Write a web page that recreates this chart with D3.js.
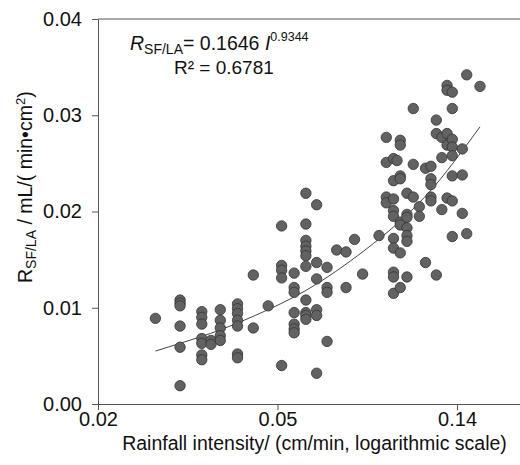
<!DOCTYPE html>
<html>
<head>
<meta charset="utf-8">
<script src="https://cdn.jsdelivr.net/npm/d3@7/dist/d3.min.js"></script>
<style>
  body { margin: 0; background: #fff; }
  text { font-family: "Liberation Sans", Arial, sans-serif; fill: #111; }
</style>
</head>
<body>
<div id="chart"></div>
<script>
// rainfall intensity levels (cm/min) and the R_SF/LA readings at each level
var intensity = [0.0273, 0.0312, 0.0351, 0.0369, 0.0388, 0.0426, 0.0464, 0.0503, 0.0541, 0.0579,
                 0.0617, 0.0654, 0.0692, 0.0729, 0.0767, 0.0803, 0.0839, 0.0917, 0.0954, 0.0992,
                 0.1011, 0.1029, 0.1067, 0.1104, 0.1141, 0.1180, 0.1215, 0.1251, 0.1289, 0.1326,
                 0.1364, 0.1440, 0.1475, 0.1585];
var rsfla = [
    [0.0089],
    [0.0108, 0.0105, 0.0102, 0.0081, 0.0059, 0.0019],
    [0.0096, 0.0090, 0.0083, 0.0068, 0.0063, 0.0051, 0.0046],
    [0.0066, 0.0062],
    [0.0098, 0.0087, 0.0079, 0.0071, 0.0066],
    [0.0104, 0.0099, 0.0094, 0.0087, 0.0081, 0.0052, 0.0048],
    [0.0134, 0.0079],
    [0.0102],
    [0.0185, 0.0144, 0.0139, 0.0131, 0.0040],
    [0.0136, 0.0121, 0.0116, 0.0095, 0.0083, 0.0078, 0.0074],
    [0.0219, 0.0187, 0.0170, 0.0164, 0.0159, 0.0154, 0.0143, 0.0108, 0.0095, 0.0092, 0.0088],
    [0.0207, 0.0147, 0.0130, 0.0098, 0.0092, 0.0032],
    [0.0142, 0.0121, 0.0116, 0.0065],
    [0.0160],
    [0.0158, 0.0121],
    [0.0171],
    [0.0135],
    [0.0175],
    [0.0277, 0.0251, 0.0215, 0.0209],
    [0.0255, 0.0232, 0.0213, 0.0201, 0.0195, 0.0172, 0.0162, 0.0137, 0.0132, 0.0115],
    [0.0253],
    [0.0274, 0.0269, 0.0237, 0.0234, 0.0189, 0.0186, 0.0157, 0.0121],
    [0.0219, 0.0197, 0.0194, 0.0183, 0.0175, 0.0169, 0.0132],
    [0.0307, 0.0249, 0.0215],
    [0.0205, 0.0195],
    [0.0245, 0.0147],
    [0.0247, 0.0234, 0.0228, 0.0215, 0.0211],
    [0.0295, 0.0281, 0.0134],
    [0.0277, 0.0256, 0.0202],
    [0.0331, 0.0326, 0.0281, 0.0269, 0.0214],
    [0.0324, 0.0307, 0.0275, 0.0267, 0.0258, 0.0237, 0.0211, 0.0174],
    [0.0265, 0.0238, 0.0198],
    [0.0342, 0.0177],
    [0.0330]
];

// fitted power curve
var fitI = [0.0273, 0.0312, 0.0388, 0.0469, 0.0617, 0.0850, 0.1028, 0.1226, 0.1440, 0.1585];
var fitR = [0.0055, 0.0063, 0.0077, 0.0092, 0.0118, 0.0160, 0.0190, 0.0224, 0.0263, 0.0288];

var xTickValues = [0.02, 0.0529, 0.14];
var xTickLabels = ["0.02", "0.05", "0.14"];
var yTickValues = [0, 0.01, 0.02, 0.03, 0.04];

const width = 520, height = 465,
    margin = {left: 98, top: 19, right: -12, bottom: 61};

const svg = d3.select("#chart")
    .append("svg")
        .attr("width", width)
        .attr("height", height);

const xScale = d3.scaleLog()
    .domain([0.02, 0.21])
    .range([margin.left, margin.left + 424.9 * Math.log10(0.21 / 0.02)]);
const yScale = d3.scaleLinear()
    .domain([0, 0.04])
    .range([height - margin.bottom, margin.top]);

// flatten the readings into points
var points = [];
intensity.forEach(function(d, i) {
    rsfla[i].forEach(function(r) {
        points.push({x: d, y: r});
    });
});

// top frame line
svg.append("line")
    .attr("x1", xScale.range()[0]).attr("x2", xScale.range()[1])
    .attr("y1", yScale(0.04)).attr("y2", yScale(0.04))
    .attr("stroke", "#555").attr("stroke-width", 1);

const xAxis = svg.append("g")
    .attr("transform", `translate(0, ${yScale(0)})`)
    .call(d3.axisBottom(xScale)
        .tickValues(xTickValues)
        .tickFormat((d, i) => xTickLabels[i])
        .tickSize(6)
        .tickSizeOuter(0)
        .tickPadding(2));

const yAxis = svg.append("g")
    .attr("transform", `translate(${xScale(0.02)}, 0)`)
    .call(d3.axisLeft(yScale)
        .tickValues(yTickValues)
        .tickFormat(d3.format(".2f"))
        .tickSize(6)
        .tickSizeOuter(0)
        .tickPadding(10));

[xAxis, yAxis].forEach(function(g) {
    g.select(".domain").attr("stroke", "#555");
    g.selectAll(".tick line").attr("stroke", "#555");
    g.selectAll(".tick text")
        .style("font-size", "20px")
        .attr("fill", "#111");
});

// fit line
const line = d3.line()
    .x((d, i) => xScale(fitI[i]))
    .y(d => yScale(d))
    .curve(d3.curveMonotoneX);

svg.append("path")
    .datum(fitR)
    .attr("d", line)
    .attr("fill", "none")
    .attr("stroke", "#444")
    .attr("stroke-width", 1);

// points
svg.append("g")
    .selectAll("circle")
    .data(points)
    .enter()
    .append("circle")
        .attr("cx", d => xScale(d.x))
        .attr("cy", d => yScale(d.y))
        .attr("r", 5.2)
        .style("fill", "#626262")
        .style("stroke", "#333")
        .style("stroke-width", 0.8);

// equation
const eq = svg.append("text")
    .attr("x", 130)
    .attr("y", 50)
    .style("font-size", "19.5px");
eq.append("tspan").style("font-style", "italic").text("R");
eq.append("tspan").attr("dy", 4).style("font-size", "14px").text("SF/LA");
eq.append("tspan").attr("dy", -4).text("= 0.1646 ");
eq.append("tspan").style("font-style", "italic").text("I");
eq.append("tspan").attr("dy", -9).style("font-size", "12.5px").text("0.9344");

svg.append("text")
    .attr("x", 174)
    .attr("y", 74)
    .style("font-size", "19px")
    .text("R² = 0.6781");

// axis titles
svg.append("text")
    .attr("x", 314.5)
    .attr("y", 450)
    .attr("text-anchor", "middle")
    .style("font-size", "19.5px")
    .text("Rainfall intensity/ (cm/min, logarithmic scale)");

const yTitle = svg.append("text")
    .attr("transform", "translate(32, 283) rotate(-90)")
    .style("font-size", "19.5px");
yTitle.append("tspan").text("R");
yTitle.append("tspan").attr("dy", 4).style("font-size", "14px").text("SF/LA");
yTitle.append("tspan").attr("dy", -4).text(" / mL/( min\u2022cm");
yTitle.append("tspan").attr("dy", -7).style("font-size", "13px").text("2");
yTitle.append("tspan").attr("dy", 7).text(")");
</script>
</body>
</html>
